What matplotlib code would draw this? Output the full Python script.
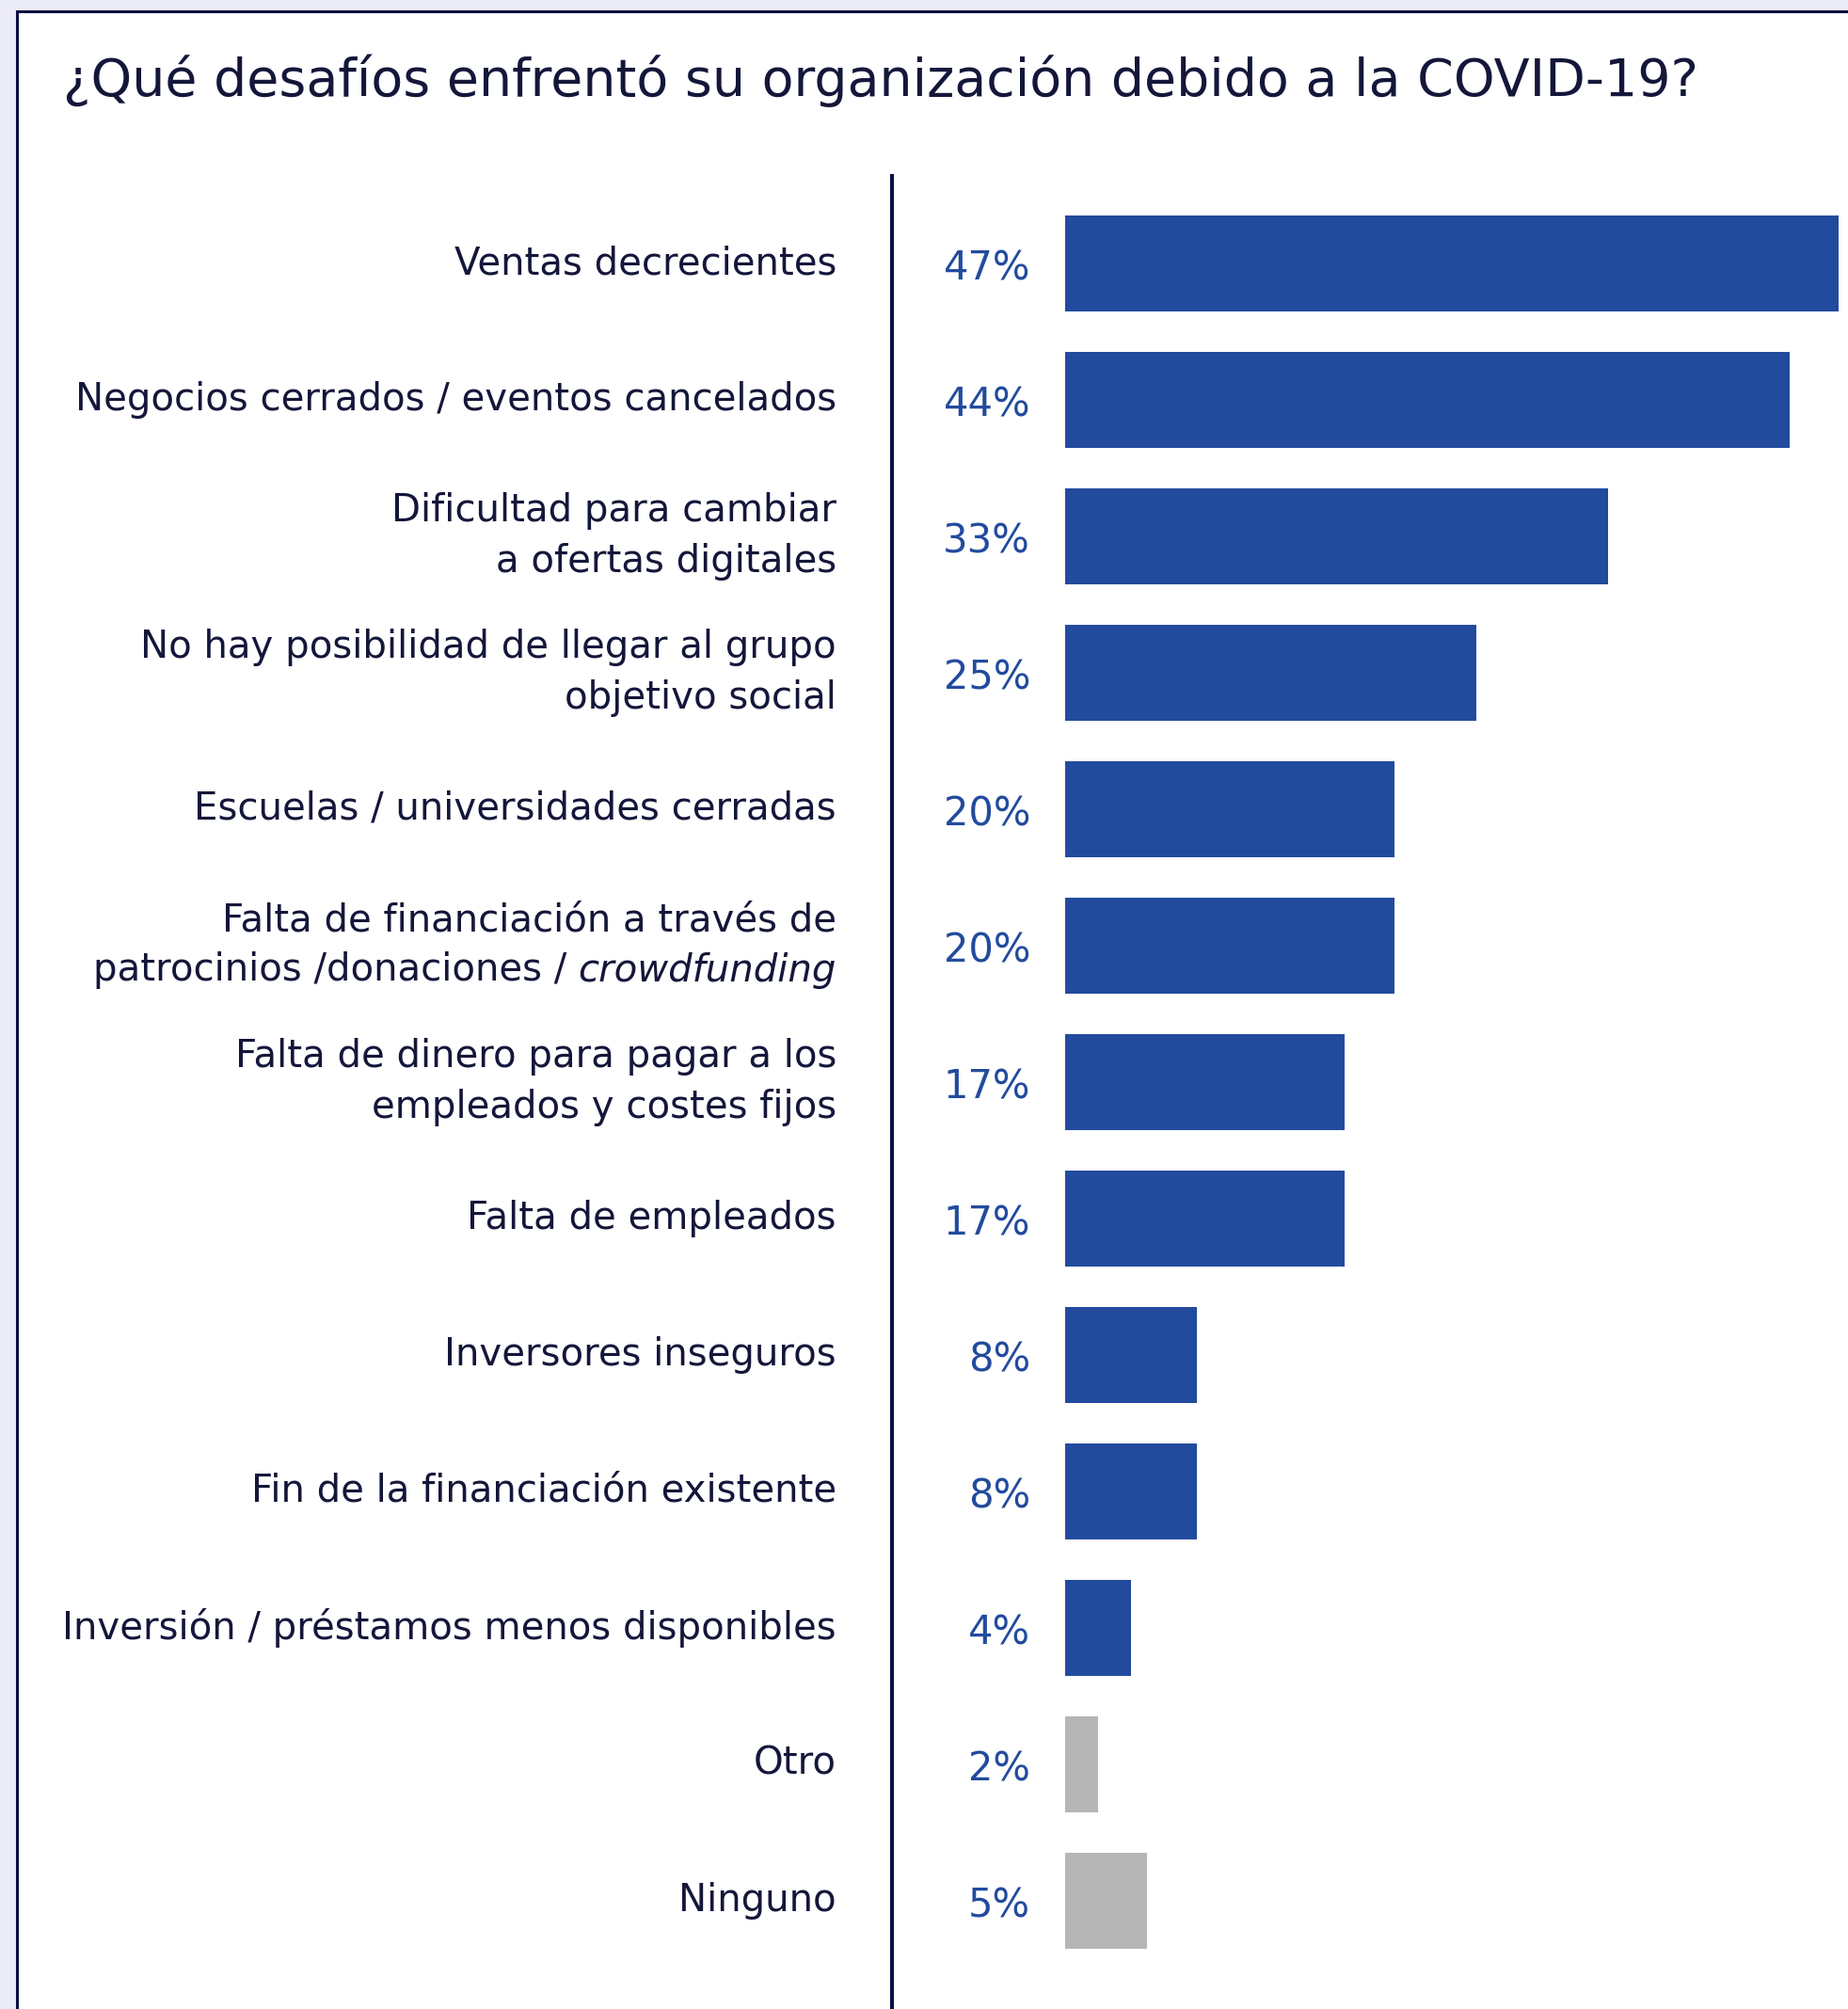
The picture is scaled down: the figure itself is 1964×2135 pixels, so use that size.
import matplotlib.pyplot as plt
from matplotlib.patches import Rectangle

# datos
titulo = "¿Qué desafíos enfrentó su organización debido a la COVID-19?"
categorias = [
    "Ventas decrecientes",
    "Negocios cerrados / eventos cancelados",
    "Dificultad para cambiar\na ofertas digitales",
    "No hay posibilidad de llegar al grupo\nobjetivo social",
    "Escuelas / universidades cerradas",
    "Falta de financiación a través de\npatrocinios /donaciones / ",
    "Falta de dinero para pagar a los\nempleados y costes fijos",
    "Falta de empleados",
    "Inversores inseguros",
    "Fin de la financiación existente",
    "Inversión / préstamos menos disponibles",
    "Otro",
    "Ninguno",
]
cursiva = {5: "crowdfunding"}
valores = [47, 44, 33, 25, 20, 20, 17, 17, 8, 8, 4, 2, 5]
grises = ["Otro", "Ninguno"]

azul = "#224B9E"
gris = "#B6B6B6"
oscuro = "#14163A"

W, H = 1964, 2135
fig = plt.figure(figsize=(W / 100, H / 100), dpi=100)
fig.patch.set_facecolor("#ECEBF8")

# panel blanco con borde
fig.patches.append(Rectangle((18 / W, -0.1), 1.2, (H - 12) / H + 0.1,
                             transform=fig.transFigure, facecolor="white",
                             edgecolor="#0B1040", linewidth=2.2, zorder=-5))

fig.text(67 / W, 1 - 102 / H, titulo, fontsize=40, color=oscuro,
         ha="left", va="baseline")

# eje: x=0 en px 1132, 17.49 px por %, filas cada 145 px desde 280
x0, sx = 1132, 17.49
y0, sy = 280, 145
left, top = 948, 187
ax = fig.add_axes([left / W, 0, 1 - left / W, 1 - top / H])
ax.set_zorder(2)
ax.set_xlim((left - x0) / sx, (W - x0) / sx)
ax.set_ylim((H - y0) / sy, (top - y0) / sy)
ax.set_facecolor("none")
for s in ["top", "right", "bottom"]:
    ax.spines[s].set_visible(False)
ax.spines["left"].set_color("#0B1040")
ax.spines["left"].set_linewidth(3)
ax.set_xticks([])
ax.set_yticks([])

pos = list(range(len(categorias)))
cols = [gris if c in grises else azul for c in categorias]
ax.barh(pos, valores, height=0.70, color=cols)

xl = (889 - x0) / sx
xp = (1095 - x0) / sx
fs = 29
for i, (c, v) in enumerate(zip(categorias, valores)):
    ax.text(xp, i + 0.04, f"{v}%", ha="right", va="center", fontsize=30,
            color=azul, clip_on=False)
    if i in cursiva:
        l1, l2 = c.split("\n")
        ax.text(xl, i - 0.185, l1, ha="right", va="center", fontsize=fs,
                color=oscuro, clip_on=False)
        it = ax.text(xl, i + 0.185, cursiva[i], ha="right", va="center",
                     fontsize=fs, color=oscuro, style="italic", clip_on=False)
        ax.annotate(l2, xy=(0, 0), xycoords=it, ha="right", va="bottom",
                    fontsize=fs, color=oscuro)
    else:
        ax.text(xl, i, c, ha="right", va="center", fontsize=fs, color=oscuro,
                linespacing=1.45, clip_on=False)

fig.savefig("out.png", dpi=100, facecolor=fig.get_facecolor())
